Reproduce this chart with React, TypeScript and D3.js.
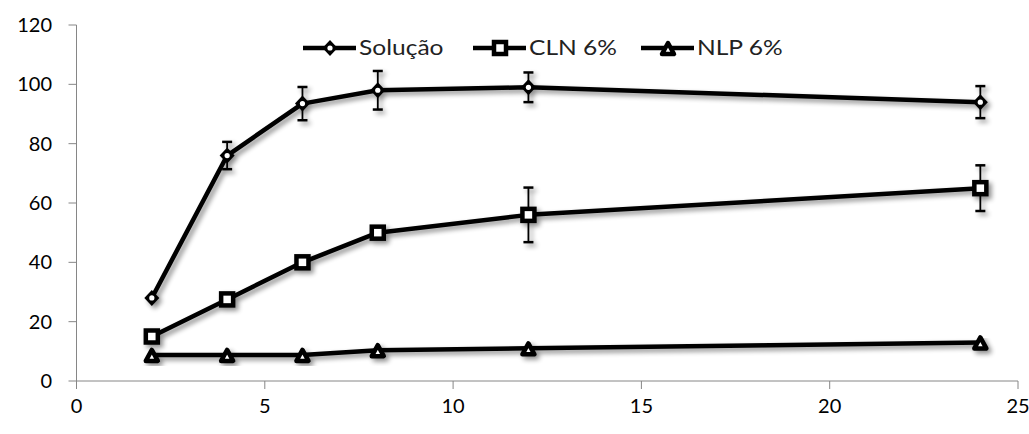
import React from 'react'
import * as d3 from 'd3'

const hours = [2, 4, 6, 8, 12, 24]
const solucao = [28, 76, 93.5, 98, 99, 94]
const solucaoErr = [0, 4.6, 5.6, 6.5, 5, 5.4]
const cln = [15, 27.5, 40, 50, 56, 65]
const clnErr = [0, 0, 0, 0, 9.2, 7.7]
const nlp = [8.8, 8.8, 8.8, 10.4, 11, 13]
const nlpErr = [0, 0, 0, 0, 0, 0]
const xTicks = [0, 5, 10, 15, 20, 25]
const yTicks = [0, 20, 40, 60, 80, 100, 120]
const seriesNames = ['Solução', 'CLN 6%', 'NLP 6%']

const W = 1029
const H = 434
const FONT = 'Lato, "Open Sans", sans-serif'

type Shape = 'diamond' | 'square' | 'triangle'

function Marker({ shape, cx, cy }: { shape: Shape; cx: number; cy: number }) {
    if (shape === 'diamond') {
        return (
            <g transform={`translate(${cx},${cy})`}>
                <path d="M0,-8L7.5,0L0,8L-7.5,0Z" fill="#000" />
                <circle r={2.6} fill="#fff" />
            </g>
        )
    }
    if (shape === 'square') {
        return (
            <rect x={cx - 6} y={cy - 6} width={12} height={12}
                fill="#fff" stroke="#000" strokeWidth={4.5} />
        )
    }
    return (
        <g transform={`translate(${cx},${cy})`}>
            <path d="M0,-5L6,6L-6,6Z" fill="#fff" stroke="#000" strokeWidth={4.5} strokeLinejoin="round" />
        </g>
    )
}

export default function App() {
    const x = d3.scaleLinear().domain([0, 25]).range([76.5, 1018])
    const y = d3.scaleLinear().domain([0, 120]).range([381, 25])

    const series = [
        { name: seriesNames[0], values: solucao, err: solucaoErr, shape: 'diamond' as Shape },
        { name: seriesNames[1], values: cln, err: clnErr, shape: 'square' as Shape },
        { name: seriesNames[2], values: nlp, err: nlpErr, shape: 'triangle' as Shape },
    ]

    const line = d3.line<number>()
        .x((_, i) => x(hours[i]))
        .y(d => y(d))

    const legendX = [303, 473, 641]
    const legendY = 48

    return (
        <svg width={W} height={H} style={{ position: 'absolute', left: 0, top: 0 }} fontFamily={FONT}>
            <defs>
                <filter id="shadow" x="-10%" y="-10%" width="120%" height="130%">
                    <feGaussianBlur in="SourceAlpha" stdDeviation="2.5" />
                    <feOffset dx="3" dy="3" result="b" />
                    <feComponentTransfer><feFuncA type="linear" slope="0.45" /></feComponentTransfer>
                    <feMerge>
                        <feMergeNode />
                        <feMergeNode in="SourceGraphic" />
                    </feMerge>
                </filter>
            </defs>
            <rect width={W} height={H} fill="#fff" />

            {/* axes */}
            <g stroke="#868686" strokeWidth={1}>
                <line x1={x(0)} x2={x(0)} y1={y(120)} y2={y(0)} />
                <line x1={x(0)} x2={x(25)} y1={y(0)} y2={y(0)} />
                {yTicks.map(t => (
                    <line key={t} x1={x(0) - 8} x2={x(0)} y1={y(t)} y2={y(t)} />
                ))}
                {xTicks.map(t => (
                    <line key={t} x1={x(t)} x2={x(t)} y1={y(0)} y2={y(0) + 8} />
                ))}
            </g>
            <g fontSize={20} fill="#000">
                {yTicks.map(t => (
                    <text key={t} x={52} y={y(t)} dy="0.35em" textAnchor="end">{t}</text>
                ))}
                {xTicks.map(t => (
                    <text key={t} x={x(t)} y={413} textAnchor="middle">{t}</text>
                ))}
            </g>

            {/* series */}
            {series.map(s => (
                <g key={s.name} filter="url(#shadow)">
                    <path d={line(s.values) || ''} fill="none" stroke="#000" strokeWidth={4.5} strokeLinejoin="round" />
                    {s.values.map((v, i) => s.err[i] > 0 ? (
                        <g key={i} stroke="#000" strokeWidth={1.8}>
                            <line x1={x(hours[i])} x2={x(hours[i])} y1={y(v + s.err[i])} y2={y(v - s.err[i])} />
                            <line x1={x(hours[i]) - 5} x2={x(hours[i]) + 5} y1={y(v + s.err[i])} y2={y(v + s.err[i])} strokeWidth={2.5} />
                            <line x1={x(hours[i]) - 5} x2={x(hours[i]) + 5} y1={y(v - s.err[i])} y2={y(v - s.err[i])} strokeWidth={2.5} />
                        </g>
                    ) : null)}
                    {s.values.map((v, i) => (
                        <Marker key={i} shape={s.shape} cx={x(hours[i])} cy={y(v)} />
                    ))}
                </g>
            ))}

            {/* legend */}
            {series.map((s, i) => (
                <g key={s.name}>
                    <line x1={legendX[i]} x2={legendX[i] + 53} y1={legendY} y2={legendY} stroke="#000" strokeWidth={4.5} />
                    <Marker shape={s.shape} cx={legendX[i] + 27} cy={legendY} />
                    <text transform={`translate(${legendX[i] + 56},${legendY}) scale(1.17,1)`} dy="0.35em" fontSize={21} fill="#222">{s.name}</text>
                </g>
            ))}
        </svg>
    )
}
